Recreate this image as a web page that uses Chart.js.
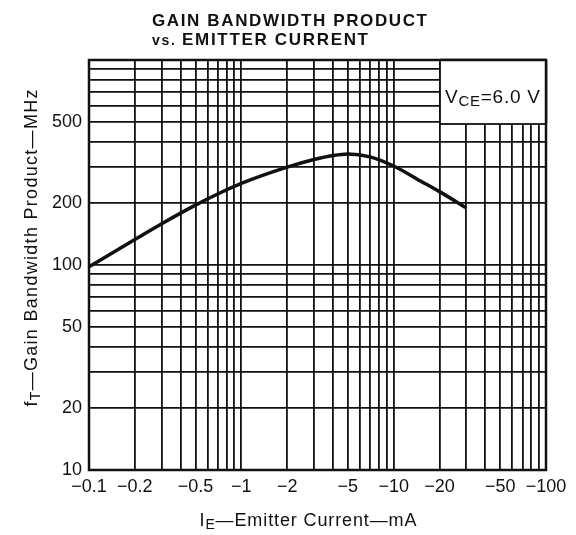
<!DOCTYPE html>
<html lang="en">
<head>
<meta charset="UTF-8">
<title>Gain Bandwidth Product vs. Emitter Current</title>
<script src="https://cdn.jsdelivr.net/npm/chart.js@4"></script>
<style>
  html, body { margin: 0; padding: 0; background: #fff; }
  #wrap { width: 576px; height: 535px; }
</style>
</head>
<body>
<div id="wrap"><canvas id="chart" width="576" height="535"></canvas></div>
<script>
// curve (I_E in -mA, fT in MHz)
const currents = [0.1, 0.2, 0.3, 0.5, 0.7, 1, 2, 3, 4, 5, 7, 10, 15, 20, 30];
const gainMHz  = [98, 133, 159, 196, 222, 250, 300, 327, 342, 348, 337, 304, 257, 228, 190];

// grid lines (log paper)
const xGrid = [0.1, 0.2, 0.3, 0.4, 0.5, 0.6, 0.7, 0.8, 0.9,
               1, 2, 3, 4, 5, 6, 7, 8, 9,
               10, 20, 30, 40, 50, 60, 70, 80, 90, 100];
const yGrid = [10, 20, 30, 40, 50, 60, 70, 80, 90,
               100, 200, 300, 400, 500, 600, 700, 800, 900, 1000];

// labelled ticks
const xLabelValues = [0.1, 0.2, 0.5, 1, 2, 5, 10, 20, 50, 100];
const xLabelText   = ['\u22120.1', '\u22120.2', '\u22120.5', '\u22121', '\u22122',
                      '\u22125', '\u221210', '\u221220', '\u221250', '\u2212100'];
const yLabelValues = [10, 20, 50, 100, 200, 500];
const yLabelText   = ['10', '20', '50', '100', '200', '500'];

const INK = '#111';
const FONT = "'Liberation Sans', Arial, sans-serif";

// draw runs of text char by char, spread to a target width
function drawRich(ctx, parts, x, y, width, align) {
  let natural = 0, count = 0;
  parts.forEach(p => {
    ctx.font = p.font;
    for (const ch of p.text) { natural += ctx.measureText(ch).width; count++; }
  });
  const ls = width ? (width - natural) / (count - 1) : 0;
  const total = natural + ls * (count - 1);
  let cx = align === 'center' ? x - total / 2 : x;
  parts.forEach(p => {
    ctx.font = p.font;
    for (const ch of p.text) {
      ctx.fillText(ch, cx, y + (p.dy || 0));
      cx += ctx.measureText(ch).width + ls;
    }
  });
}

const paperPlugin = {
  id: 'paper',
  afterDraw(chart) {
    const ctx = chart.ctx;
    const a = chart.chartArea;
    ctx.save();
    ctx.fillStyle = INK;
    ctx.strokeStyle = INK;
    ctx.textBaseline = 'alphabetic';
    ctx.textAlign = 'left';

    // frame
    ctx.lineWidth = 2.5;
    ctx.strokeRect(a.left, a.top, a.right - a.left, a.bottom - a.top);

    // condition box
    const bx = 440, by = a.top, bw = a.right - 440, bh = 124 - a.top;
    ctx.fillStyle = '#fff';
    ctx.fillRect(bx, by, bw, bh);
    ctx.lineWidth = 1.8;
    ctx.strokeRect(bx, by, bw, bh);
    ctx.lineWidth = 2.5;
    ctx.beginPath();
    ctx.moveTo(a.right, a.top); ctx.lineTo(a.right, by + bh);
    ctx.moveTo(bx, a.top); ctx.lineTo(a.right, a.top);
    ctx.stroke();
    ctx.fillStyle = INK;
    drawRich(ctx, [
      { text: 'V', font: '19px ' + FONT },
      { text: 'CE', font: '15px ' + FONT, dy: 3 },
      { text: '=6.0 V', font: '19px ' + FONT }
    ], 445, 103, 95, 'left');

    // title
    drawRich(ctx, [{ text: 'GAIN BANDWIDTH PRODUCT', font: 'bold 17px ' + FONT }], 152, 26, 275, 'left');
    drawRich(ctx, [
      { text: 'vs. ', font: 'bold 14px ' + FONT },
      { text: 'EMITTER CURRENT', font: 'bold 17px ' + FONT }
    ], 152, 45, 216, 'left');

    // x axis title
    drawRich(ctx, [
      { text: 'I', font: '18px ' + FONT },
      { text: 'E', font: '14px ' + FONT, dy: 3 },
      { text: '\u2014Emitter Current\u2014mA', font: '18px ' + FONT }
    ], 308, 526, 217, 'center');

    // y axis title
    ctx.translate(37, 248);
    ctx.rotate(-Math.PI / 2);
    drawRich(ctx, [
      { text: 'f', font: '18px ' + FONT },
      { text: 'T', font: '14px ' + FONT, dy: 3 },
      { text: '\u2014Gain Bandwidth Product\u2014MHz', font: '18px ' + FONT }
    ], 0, 0, 317, 'center');
    ctx.restore();
  }
};

const ctx = document.getElementById('chart').getContext('2d');
const chart = new Chart(ctx, {
  type: 'line',
  data: {
    datasets: [{
      data: currents.map((c, i) => ({ x: c, y: gainMHz[i] })),
      borderColor: INK,
      borderWidth: 3.5,
      pointRadius: 0,
      fill: false,
      cubicInterpolationMode: 'monotone'
    }]
  },
  options: {
    responsive: false,
    devicePixelRatio: 1,
    animation: false,
    layout: { padding: { top: 60, right: 30, left: 0, bottom: 0 } },
    plugins: { legend: { display: false }, tooltip: { enabled: false }, title: { display: false } },
    scales: {
      x: {
        type: 'logarithmic',
        min: 0.1,
        max: 100,
        afterBuildTicks: s => { s.ticks = xGrid.map(v => ({ value: v })); },
        afterFit: s => { s.height = 65; },
        grid: { color: INK, lineWidth: 1.8, drawTicks: false },
        border: { display: false },
        ticks: {
          autoSkip: false,
          maxRotation: 0,
          padding: 6,
          color: INK,
          font: { family: FONT, size: 18 },
          callback: v => {
            const i = xLabelValues.findIndex(l => Math.abs(l - v) < 1e-9);
            return i >= 0 ? xLabelText[i] : '';
          }
        }
      },
      y: {
        type: 'logarithmic',
        min: 10,
        max: 1000,
        afterBuildTicks: s => { s.ticks = yGrid.map(v => ({ value: v })); },
        afterFit: s => { s.width = 89; },
        grid: { color: INK, lineWidth: 1.8, drawTicks: false },
        border: { display: false },
        ticks: {
          autoSkip: false,
          padding: 7,
          color: INK,
          font: { family: FONT, size: 18 },
          callback: v => {
            const i = yLabelValues.findIndex(l => Math.abs(l - v) < 1e-9);
            return i >= 0 ? yLabelText[i] : '';
          }
        }
      }
    }
  },
  plugins: [paperPlugin]
});
</script>
</body>
</html>
